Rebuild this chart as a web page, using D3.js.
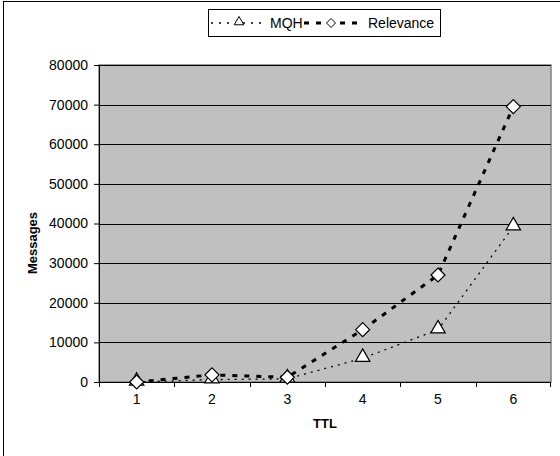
<!DOCTYPE html>
<html><head><meta charset="utf-8">
<script src="https://cdn.jsdelivr.net/npm/d3@7"></script>
<style>body{margin:0;background:#fff}svg{display:block;font-family:"Liberation Sans",Arial,sans-serif}</style>
</head><body><svg id="c" width="560" height="456"></svg>
<script>
const ttl = [1, 2, 3, 4, 5, 6];
const mqh = [0, 600, 800, 6000, 13200, 39200];
const relevance = [0, 1800, 1200, 13200, 27000, 69500];
const yTicks = [0, 10000, 20000, 30000, 40000, 50000, 60000, 70000, 80000];

const svg = d3.select("#c");
const L = 99, R = 551, T = 65, B = 382;
svg.append("rect").attr("x", 3.5).attr("y", 1.5).attr("width", 600).attr("height", 600)
  .attr("fill", "none").attr("stroke", "#000").attr("stroke-width", 1);

const xb = d3.scaleBand().domain(ttl).range([L, R]);
const y = d3.scaleLinear().domain([0, 80000]).range([B, T]);
const xc = d => xb(d) + xb.bandwidth() / 2;

svg.append("rect").attr("x", L).attr("y", T).attr("width", R - L).attr("height", B - T)
  .attr("fill", "#c0c0c0").attr("stroke", "#808080").attr("stroke-width", 1.5);

svg.append("g").selectAll("line").data(yTicks.slice(1)).join("line")
  .attr("x1", L).attr("x2", R).attr("y1", d => Math.round(y(d)) + 0.5).attr("y2", d => Math.round(y(d)) + 0.5)
  .attr("stroke", "#000").attr("stroke-width", 1);

const yAxis = svg.append("g").attr("transform", `translate(${L},0)`)
  .call(d3.axisLeft(y).tickValues(yTicks).tickSize(5).tickPadding(6).tickFormat(d3.format("d")));
yAxis.select(".domain").attr("stroke", "#000");
yAxis.selectAll("text").attr("font-size", 14).attr("fill", "#000").style("font-family", "Liberation Sans, Arial, sans-serif");

const xAxis = svg.append("g").attr("transform", `translate(0,${B})`)
  .call(d3.axisBottom(xb).tickSize(0).tickPadding(12));
xAxis.select(".domain").remove();
xAxis.selectAll("text").attr("font-size", 14).attr("fill", "#000").style("font-family", "Liberation Sans, Arial, sans-serif");
svg.append("line").attr("x1", L).attr("x2", R).attr("y1", B + 0.5).attr("y2", B + 0.5).attr("stroke", "#000");
svg.append("g").selectAll("line").data(ttl).join("line")
  .attr("x1", d => Math.round(xb(d)) + 0.5).attr("x2", d => Math.round(xb(d)) + 0.5)
  .attr("y1", B).attr("y2", B + 5).attr("stroke", "#000");
svg.append("line").attr("x1", R - 0.5).attr("x2", R - 0.5).attr("y1", B).attr("y2", B + 5).attr("stroke", "#000");

svg.append("text").attr("x", (L + R) / 2).attr("y", 428).attr("text-anchor", "middle")
  .attr("font-size", 13).attr("font-weight", "bold").text("TTL");
svg.append("text").attr("transform", "translate(37,243) rotate(-90)").attr("text-anchor", "middle")
  .attr("font-size", 13).attr("font-weight", "bold").text("Messages");

const line = d3.line().x((d, i) => xc(ttl[i])).y(d => y(d)).curve(d3.curveLinear);
svg.append("path").attr("d", line(mqh)).attr("fill", "none").attr("stroke", "#000")
  .attr("stroke-width", 1.3).attr("stroke-dasharray", "2,5");
svg.append("path").attr("d", line(relevance)).attr("fill", "none").attr("stroke", "#000")
  .attr("stroke-width", 3).attr("stroke-dasharray", "5,7");

const tri = d3.symbol().type(d3.symbolTriangle).size(90);
const dia = (cx, cy, r) => `M${cx},${cy - r}L${cx + r},${cy}L${cx},${cy + r}L${cx - r},${cy}Z`;
svg.append("g").selectAll("path").data(mqh).join("path")
  .attr("d", tri).attr("transform", (d, i) => `translate(${xc(ttl[i])},${y(d) - 1})`)
  .attr("fill", "#fff").attr("stroke", "#000").attr("stroke-width", 1.2);
svg.append("g").selectAll("path").data(relevance).join("path")
  .attr("d", (d, i) => dia(xc(ttl[i]), y(d), 7))
  .attr("fill", "#fff").attr("stroke", "#000").attr("stroke-width", 1.2);

// legend
const lg = svg.append("g");
lg.append("rect").attr("x", 208.5).attr("y", 9.5).attr("width", 232).attr("height", 27)
  .attr("fill", "#fff").attr("stroke", "#000");
lg.append("line").attr("x1", 211).attr("x2", 264).attr("y1", 23).attr("y2", 23)
  .attr("stroke", "#000").attr("stroke-width", 1.3).attr("stroke-dasharray", "2,6");
lg.append("path").attr("d", d3.symbol().type(d3.symbolTriangle).size(40)).attr("transform", "translate(239,22)")
  .attr("fill", "#fff").attr("stroke", "#000");
lg.append("text").attr("x", 270).attr("y", 28).attr("font-size", 14).text("MQH");
lg.append("line").attr("x1", 304).attr("x2", 360).attr("y1", 23).attr("y2", 23)
  .attr("stroke", "#000").attr("stroke-width", 3).attr("stroke-dasharray", "5,7");
lg.append("path").attr("d", dia(331, 23, 4.5)).attr("fill", "#fff").attr("stroke", "#000");
lg.append("text").attr("x", 368).attr("y", 28).attr("font-size", 14).text("Relevance");
</script></body></html>
